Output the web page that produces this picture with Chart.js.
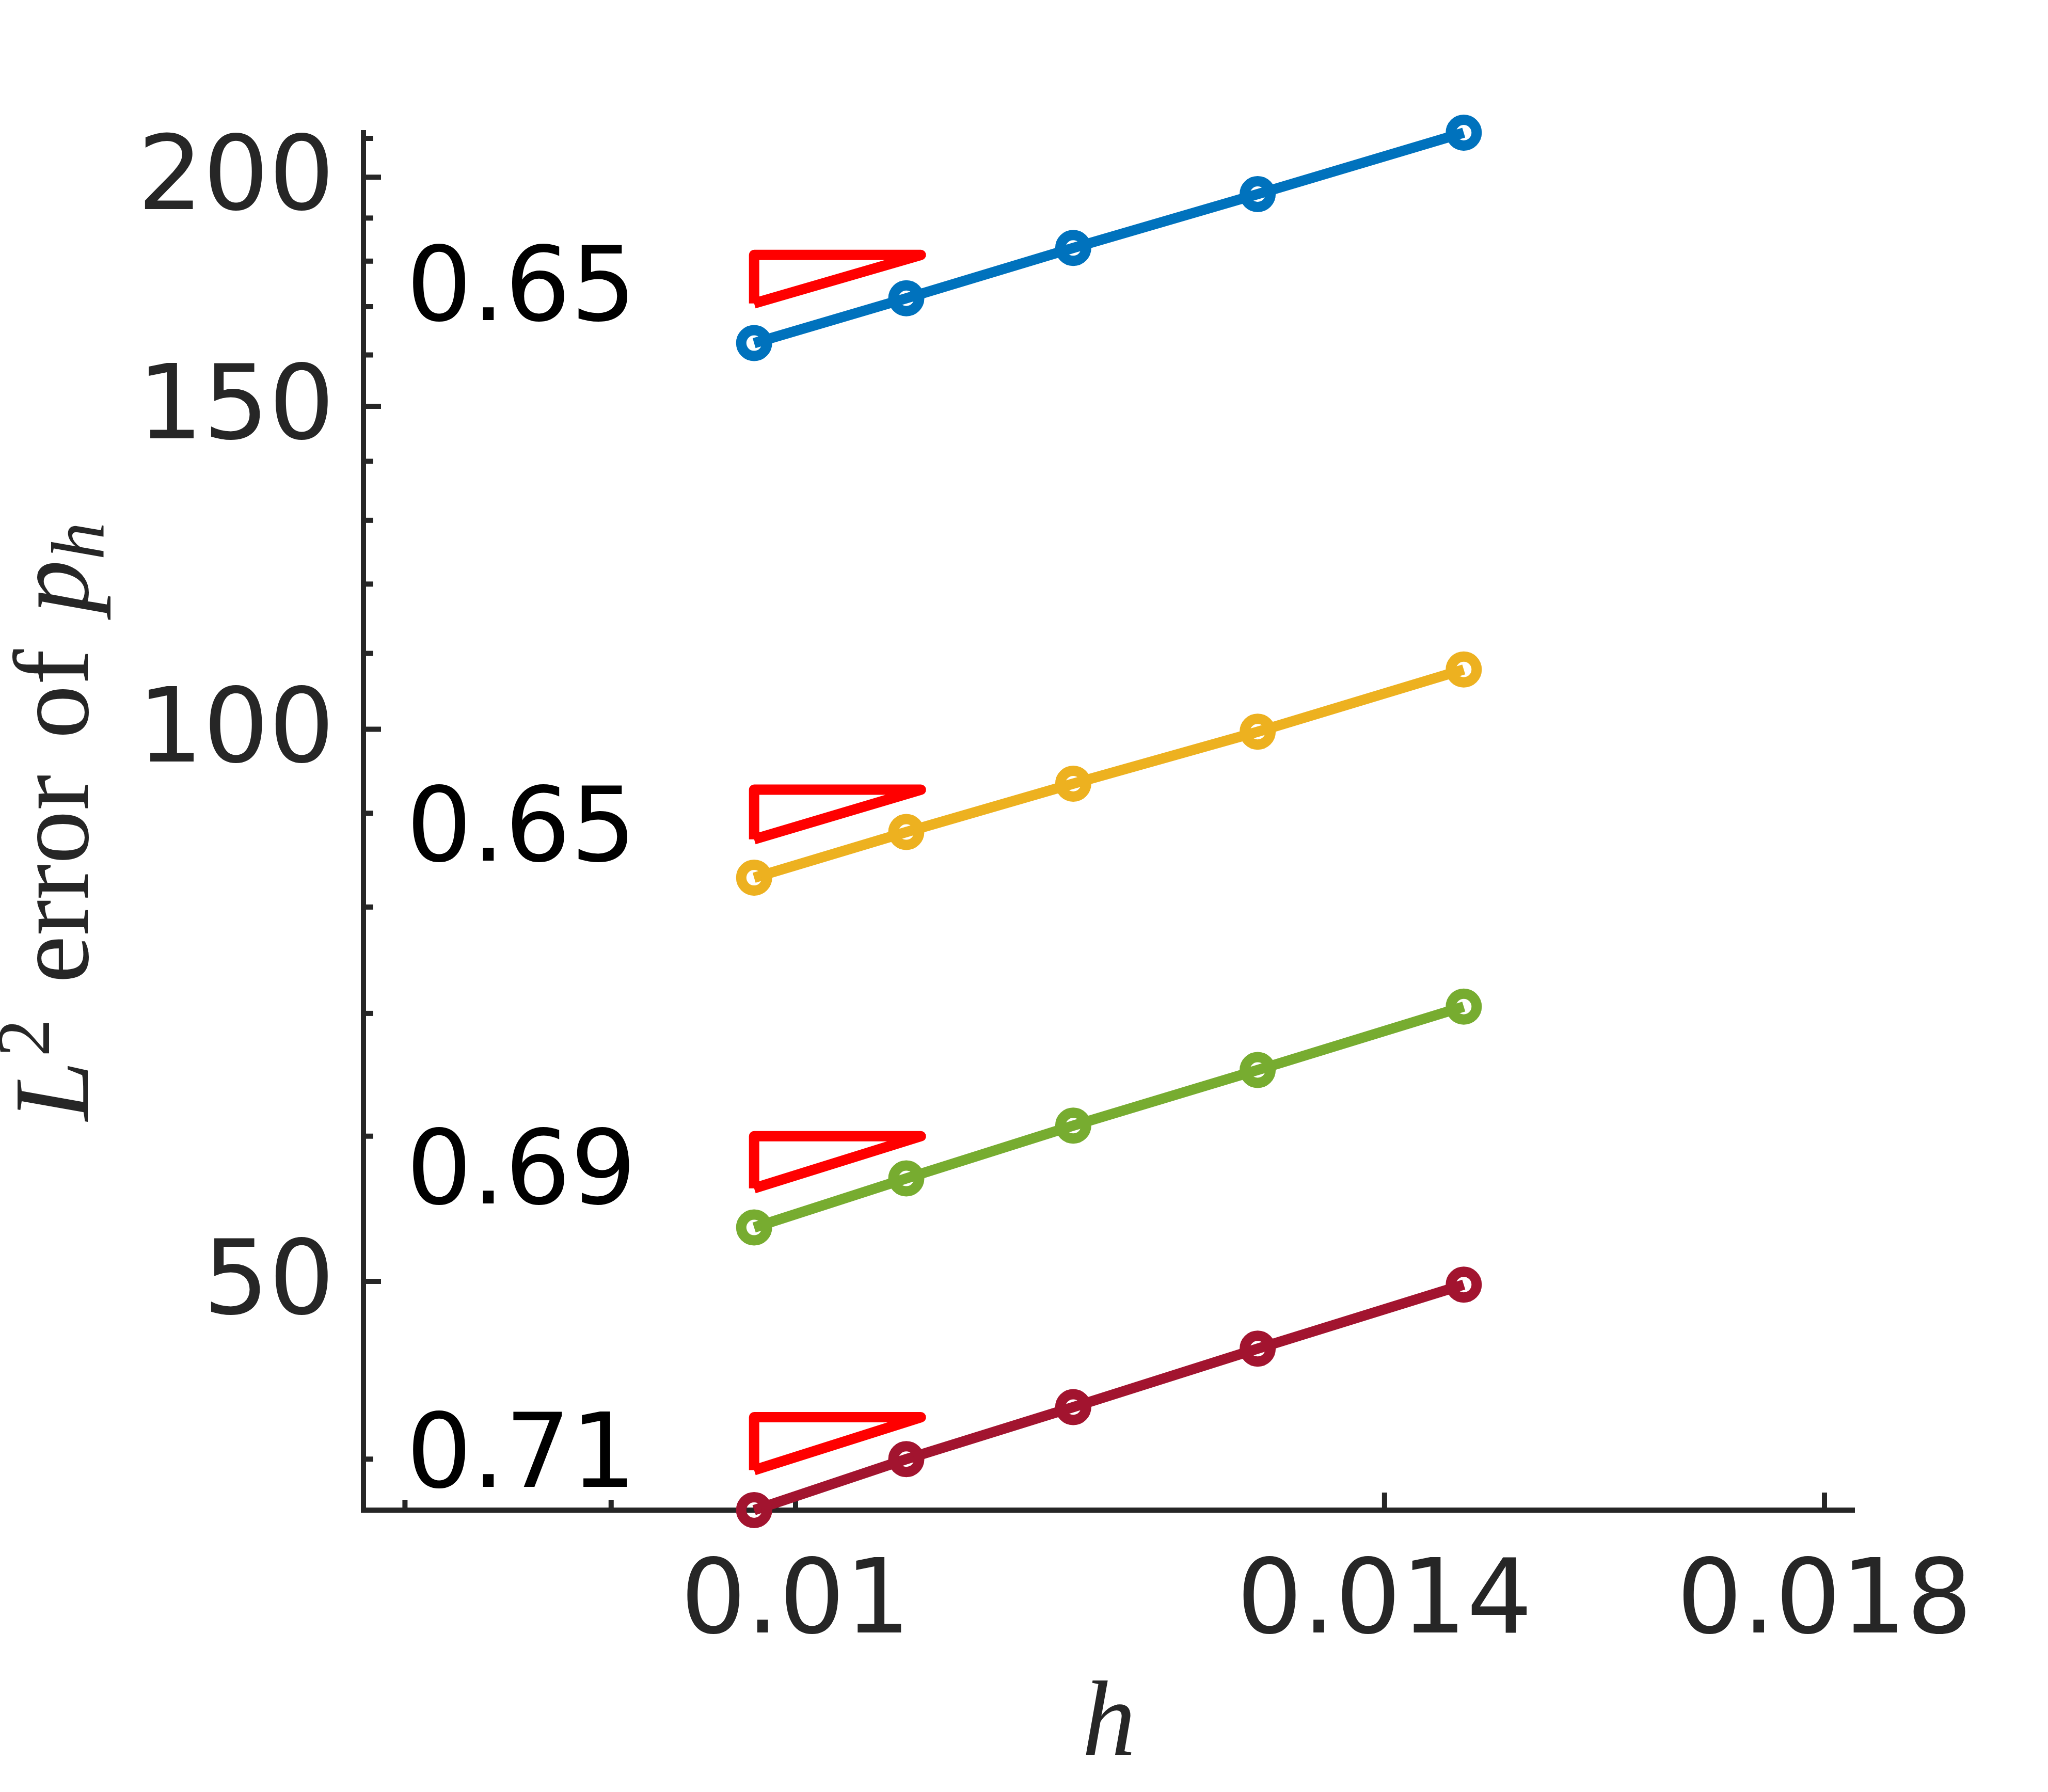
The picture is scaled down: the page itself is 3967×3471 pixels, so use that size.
<!DOCTYPE html>
<html>
<head>
<meta charset="utf-8">
<title>L2 error of p_h against h</title>
<script src="https://cdn.jsdelivr.net/npm/chart.js@4.4.0/dist/chart.umd.min.js"></script>
<style>
	html, body { margin: 0; padding: 0; background: #fff; }
	canvas { display: block; }
</style>
</head>
<body>
<canvas id="chart" width="3967" height="3471"></canvas>
<script>
	// mesh sizes
	const h = [0.009766, 0.010653, 0.011719, 0.013021, 0.014648];

	// L2 error of p_h for the four runs
	const errBlue = [162.4, 171.8, 183.0, 195.8, 211.5];
	const errYellow = [83.0, 87.9, 93.4, 99.7, 107.8];
	const errGreen = [53.5, 56.9, 60.8, 65.2, 70.6];
	const errRed = [37.52, 40.0, 42.7, 45.95, 49.8];

	// slope triangles: bottom-left -> top-left -> top-right -> bottom-left
	const triX = [0.009766, 0.009766, 0.010742, 0.009766];
	const triBlue = [170.7, 181.4, 181.4, 170.7];
	const triYellow = [87.1, 92.7, 92.7, 87.1];
	const triGreen = [56.2, 60.0, 60.0, 56.2];
	const triRed = [39.45, 42.16, 42.16, 39.45];

	// rate labels next to the triangles (value = middle of the digits)
	const rateText = ['0.65', '0.65', '0.69', '0.71'];
	const rateX = 0.00913;
	const rateY = [175.2, 88.9, 57.8, 40.5];

	// axes
	const xRange = [0.0078125, 0.0183105];
	const yRange = [37.52, 211.5];
	const xTicks = [0.008, 0.009, 0.01, 0.014, 0.018];
	const xTickLabels = [0.01, 0.014, 0.018];
	const yTicks = [40, 50, 60, 70, 80, 90, 100, 110, 120, 130, 140, 150, 160, 170, 180, 190, 200, 210];
	const yTickLabels = [50, 100, 150, 200];

	const axisColor = '#262626';
	const tickFont = { family: 'DejaVu Sans', size: 200, lineHeight: 1 };

	const toPoints = (xs, ys) => xs.map((x, i) => ({ x: x, y: ys[i] }));

	const series = (values, color) => ({
		data: toPoints(h, values),
		borderColor: color,
		borderWidth: 20,
		pointRadius: 25,
		pointBorderWidth: 20,
		pointBorderColor: color,
		pointBackgroundColor: 'rgba(0,0,0,0)',
		pointHoverRadius: 25,
		clip: false,
	});

	const triangle = (values) => ({
		data: toPoints(triX, values),
		borderColor: '#ff0000',
		borderWidth: 20,
		borderJoinStyle: 'round',
		borderCapStyle: 'butt',
		pointRadius: 0,
		pointHoverRadius: 0,
		clip: false,
	});

	// inward tick marks, rate labels and LaTeX-like axis titles
	const decor = {
		id: 'decor',
		beforeDatasetsDraw(chart) {
			const { ctx, chartArea: area, scales: { x, y } } = chart;
			ctx.save();
			ctx.strokeStyle = axisColor;
			ctx.lineWidth = 10;
			ctx.lineCap = 'butt';
			xTicks.forEach((v) => {
				const px = x.getPixelForValue(v);
				const len = xTickLabels.includes(v) ? 34 : 20;
				ctx.beginPath();
				ctx.moveTo(px, area.bottom);
				ctx.lineTo(px, area.bottom - len);
				ctx.stroke();
			});
			yTicks.forEach((v) => {
				const py = y.getPixelForValue(v);
				const len = yTickLabels.includes(v) ? 34 : 19;
				ctx.beginPath();
				ctx.moveTo(area.left, py);
				ctx.lineTo(area.left + len, py);
				ctx.stroke();
			});
			ctx.restore();
		},
		afterDraw(chart) {
			const { ctx, chartArea: area, scales: { x, y } } = chart;
			ctx.save();

			// rate labels, baseline put under the digit middle
			ctx.fillStyle = '#000';
			ctx.font = '200px "DejaVu Sans"';
			ctx.textAlign = 'right';
			ctx.textBaseline = 'alphabetic';
			rateText.forEach((t, i) => {
				ctx.fillText(t, x.getPixelForValue(rateX), y.getPixelForValue(rateY[i]) + 73);
			});

			// y title: $L^2$ error of $p_h$
			const fs = 208;
			const it = `italic ${fs}px "Liberation Serif"`;
			const rm = `${fs}px "Liberation Serif"`;
			const itSmall = `italic ${Math.round(fs * 0.7)}px "Liberation Serif"`;
			const rmSmall = `${Math.round(fs * 0.7)}px "Liberation Serif"`;
			const gap = fs * 0.333;
			const parts = [
				{ t: 'L', f: it, dy: 0 },
				{ t: '2', f: rmSmall, dy: -75, kern: 8 },
				{ gap: gap },
				{ t: 'error', f: rm, dy: 0 },
				{ gap: gap },
				{ t: 'of', f: rm, dy: 0 },
				{ gap: gap },
				{ t: 'p', f: it, dy: 0 },
				{ t: 'h', f: itSmall, dy: 31 },
			];
			let total = 0;
			parts.forEach((p) => {
				if (p.gap) { total += p.gap; return; }
				ctx.font = p.f;
				p.w = ctx.measureText(p.t).width + (p.kern || 0);
				total += p.w;
			});
			ctx.fillStyle = axisColor;
			ctx.textAlign = 'left';
			ctx.textBaseline = 'alphabetic';
			ctx.translate(area.left - 534, (area.top + area.bottom) / 2);
			ctx.rotate(-Math.PI / 2);
			let cx = -total / 2;
			parts.forEach((p) => {
				if (p.gap) { cx += p.gap; return; }
				ctx.font = p.f;
				ctx.fillText(p.t, cx + (p.kern || 0), p.dy);
				cx += p.w;
			});
			ctx.restore();

			// x title: $h$
			ctx.save();
			ctx.fillStyle = axisColor;
			ctx.font = it;
			ctx.textAlign = 'center';
			ctx.textBaseline = 'alphabetic';
			ctx.fillText('h', (area.left + area.right) / 2, area.bottom + 474);
			ctx.restore();
		},
	};

	new Chart(document.getElementById('chart'), {
		type: 'line',
		data: {
			datasets: [
				series(errBlue, '#0072BD'),
				series(errYellow, '#EDB120'),
				series(errGreen, '#77AC30'),
				series(errRed, '#A2142F'),
				triangle(triBlue),
				triangle(triYellow),
				triangle(triGreen),
				triangle(triRed),
			],
		},
		options: {
			responsive: false,
			devicePixelRatio: 1,
			animation: false,
			events: [],
			layout: { padding: { top: 257, right: 375, left: 0, bottom: 0 } },
			elements: { line: { tension: 0 } },
			plugins: {
				legend: { display: false },
				tooltip: { enabled: false },
			},
			scales: {
				x: {
					type: 'logarithmic',
					position: 'bottom',
					min: xRange[0],
					max: xRange[1],
					afterBuildTicks: (scale) => { scale.ticks = xTicks.map((v) => ({ value: v })); },
					afterFit: (scale) => { scale.height = 546; scale.paddingLeft = 0; scale.paddingRight = 0; },
					ticks: {
						autoSkip: false,
						maxRotation: 0,
						minRotation: 0,
						padding: 85,
						color: axisColor,
						font: tickFont,
						callback: (value) => (xTickLabels.includes(value) ? String(value) : ''),
					},
					grid: { display: false, drawTicks: false, tickLength: 0 },
					border: { display: true, color: axisColor, width: 10 },
				},
				y: {
					type: 'logarithmic',
					position: 'left',
					min: yRange[0],
					max: yRange[1],
					afterBuildTicks: (scale) => { scale.ticks = yTicks.map((v) => ({ value: v })); },
					afterFit: (scale) => { scale.width = 704; scale.paddingTop = 0; scale.paddingBottom = 0; },
					ticks: {
						autoSkip: false,
						padding: 56,
						labelOffset: 10,
						color: axisColor,
						font: tickFont,
						callback: (value) => (yTickLabels.includes(value) ? String(value) : ''),
					},
					grid: { display: false, drawTicks: false, tickLength: 0 },
					border: { display: true, color: axisColor, width: 10 },
				},
			},
		},
		plugins: [decor],
	});
</script>
</body>
</html>
